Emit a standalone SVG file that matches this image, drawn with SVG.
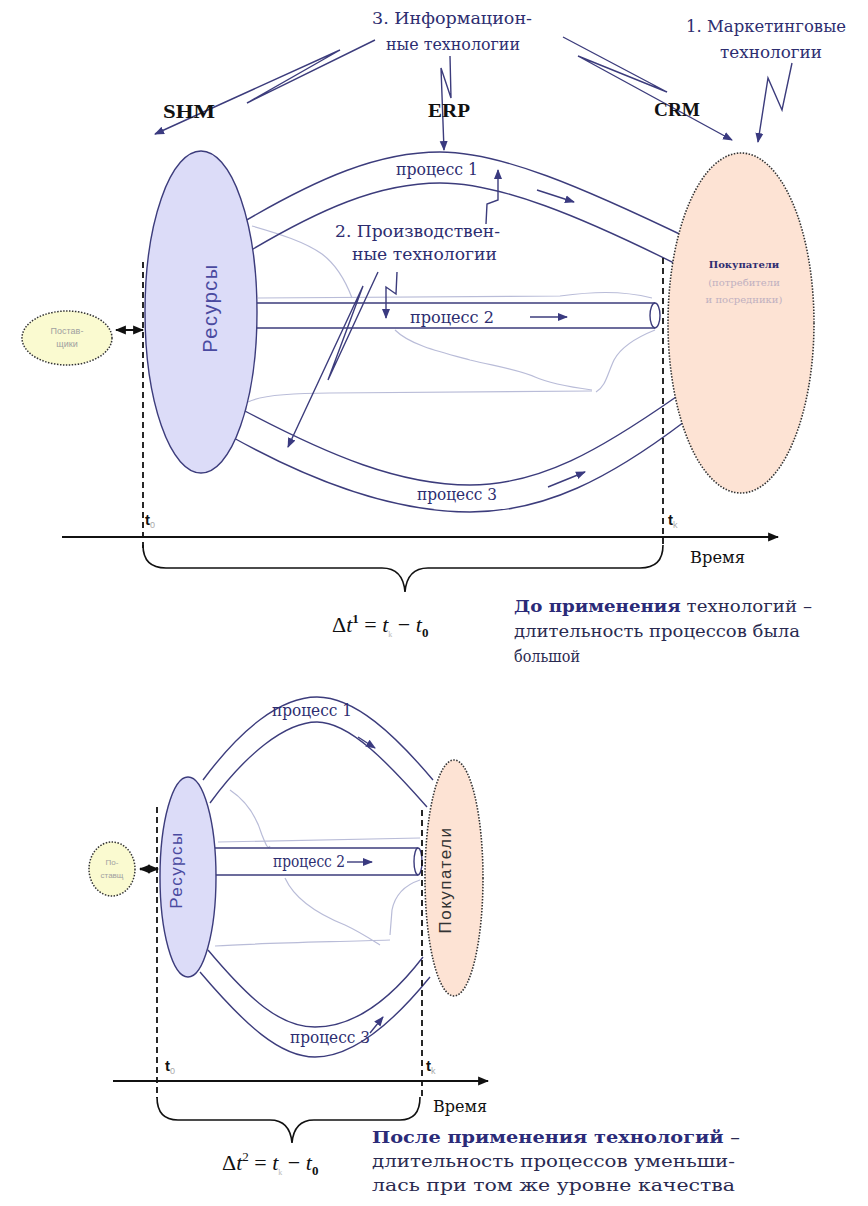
<svg xmlns="http://www.w3.org/2000/svg" width="868" height="1206" viewBox="0 0 868 1206">
<style>
.lbl{font-family:"DejaVu Serif","Liberation Serif",serif;font-size:17px;fill:#2d2d70}
.txt{font-family:"DejaVu Serif","Liberation Serif",serif;font-size:17px;fill:#2a2a50}
.blk{font-family:"Liberation Serif","DejaVu Serif",serif;font-weight:bold;font-size:18px;fill:#111}
.ln{fill:none;stroke:#3c3c7c;stroke-width:1.4}
.ar{fill:none;stroke:#3c3c7c;stroke-width:1.4;marker-end:url(#ah)}
.map{fill:none;stroke:#b9bcd8;stroke-width:1.2}
.dash{fill:none;stroke:#111;stroke-width:1.8;stroke-dasharray:6 4}
.res{fill:#dcdcf8;stroke:#3c3c7c;stroke-width:1.4}
.buy{fill:#fde3d4;stroke:#333;stroke-width:1.6;stroke-dasharray:1.5 1.5}
.sup{fill:#fafad0;stroke:#333;stroke-width:1.5;stroke-dasharray:1.5 1.5}
.rot{font-family:"Liberation Sans","DejaVu Sans",sans-serif;fill:#4a4aa0;letter-spacing:1.5px}
.t{font-family:"Liberation Sans",sans-serif;font-weight:bold;font-size:15px;fill:#111}
.sub{font-size:9px;fill:#aaa;font-weight:normal}
.f{font-family:"Liberation Serif","DejaVu Serif",serif;font-size:22px;fill:#111}
.small{font-family:"Liberation Sans","DejaVu Sans",sans-serif;fill:#a0a0a0;text-anchor:middle}
</style>
<defs>
<marker id="ah" viewBox="0 0 10 10" refX="9" refY="5" markerWidth="10" markerHeight="10" markerUnits="userSpaceOnUse" orient="auto"><path d="M0,1 L10,5 L0,9 z" fill="#3a3a80"/></marker>
<marker id="bk" viewBox="0 0 10 10" refX="9" refY="5" markerWidth="11" markerHeight="11" markerUnits="userSpaceOnUse" orient="auto-start-reverse"><path d="M0,1 L10,5 L0,9 z" fill="#111"/></marker>
</defs>
<rect width="868" height="1206" fill="#fff"/>

<!-- ===== Upper diagram ===== -->
<g id="map1">
<path class="map" d="M252,226 C280,234 305,242 322,254 C338,266 346,282 352,298"/>
<path class="map" d="M258,298 L560,296 C590,292 620,290 652,298"/>
<path class="map" d="M395,330 C410,345 440,352 470,360 C500,367 520,370 535,377 C548,383 570,387 592,390"/>
<path class="map" d="M655,330 C640,336 622,345 614,360 C607,375 606,386 596,392"/>
<path class="map" d="M248,402 C262,395 290,393 330,393 L592,391"/>
</g>

<g id="connectors-top">
<path class="ln" d="M233,228 C320,176 380,152 440,152 C500,152 580,186 692,240"/>
<path class="ln" d="M238,258 C320,208 380,183 440,183 C500,183 580,216 680,266"/>
<path class="ar" d="M537,190 L574,202"/>
<path class="ln" d="M257,303 L655,303 M257,328 L655,328"/>
<ellipse class="ln" cx="655" cy="315.5" rx="5" ry="12.5"/>
<path class="ar" d="M530,317 L567,317"/>
<path class="ln" d="M243,410 C330,456 400,485 470,485 C540,485 600,450 676,397"/>
<path class="ln" d="M232,437 C320,486 400,512 470,512 C545,512 610,478 684,422"/>
<path class="ar" d="M548,487 L585,472"/>
<path class="ar" d="M375,40 L247,103 L340,50 L155,134"/>
<path class="ar" d="M450,56 L451,98 L441,68 L444,150"/>
<path class="ar" d="M563,37 L667,92 L578,56 L732,140"/>
<path class="ar" d="M792,63 L782,110 L768,78 L758,142"/>
<path class="ar" d="M486,224 L487,204 L498,200 L498,170"/>
<path class="ar" d="M397,272 L396,294 L386,287 L386,318"/>
<path class="ar" d="M378,272 L328,380 L363,286 L288,447"/>
<path d="M116,330 L143,330" stroke="#111" stroke-width="2" marker-start="url(#bk)" marker-end="url(#bk)"/>
<path class="dash" d="M143,262 L143,548"/>
<path class="dash" d="M663,258 L663,548"/>
<path d="M62,537 L778,537" stroke="#111" stroke-width="2" marker-end="url(#bk)"/>
<path d="M143,545 Q143,568 166,568 L382,568 Q403,568 405,592 Q407,568 428,568 L640,568 Q663,568 663,545" fill="none" stroke="#111" stroke-width="1.6"/>
</g>

<g id="resources1">
<ellipse class="res" cx="201" cy="312" rx="56" ry="161"/>
<text class="rot" font-size="20" text-anchor="middle" transform="translate(217,308) rotate(-90)">Ресурсы</text>
</g>
<g id="buyers1">
<ellipse class="buy" cx="741" cy="323" rx="73" ry="170"/>
<text x="744" y="268" text-anchor="middle" font-family="DejaVu Serif,serif" font-weight="bold" font-size="10" fill="#2d2d70">Покупатели</text>
<text x="744" y="286" text-anchor="middle" font-family="DejaVu Serif,serif" font-size="10" fill="#c0b0c0">(потребители</text>
<text x="744" y="303" text-anchor="middle" font-family="DejaVu Serif,serif" font-size="10" fill="#c0b0c0">и посредники)</text>
</g>
<g id="supplier1">
<ellipse class="sup" cx="67" cy="338" rx="45" ry="27"/>
<text class="small" x="67" y="334" font-size="9">Постав-</text>
<text class="small" x="67" y="347" font-size="9">щики</text>
</g>

<g id="labels-top">
<text class="lbl" x="372" y="24" textLength="160" lengthAdjust="spacingAndGlyphs">3. Информацион-</text>
<text class="lbl" x="386" y="50" textLength="134" lengthAdjust="spacingAndGlyphs">ные технологии</text>
<text class="lbl" x="686" y="32" textLength="160" lengthAdjust="spacingAndGlyphs">1. Маркетинговые</text>
<text class="lbl" x="720" y="58" textLength="102" lengthAdjust="spacingAndGlyphs">технологии</text>
<text class="blk" x="163" y="118" textLength="52" lengthAdjust="spacingAndGlyphs">SHM</text>
<text class="blk" x="428" y="117" textLength="42" lengthAdjust="spacingAndGlyphs">ERP</text>
<text class="blk" x="654" y="116" textLength="46" lengthAdjust="spacingAndGlyphs">CRM</text>
<text class="lbl" x="396" y="175" textLength="82" lengthAdjust="spacingAndGlyphs">процесс 1</text>
<text class="lbl" x="335" y="237" textLength="165" lengthAdjust="spacingAndGlyphs">2. Производствен-</text>
<text class="lbl" x="352" y="260" textLength="145" lengthAdjust="spacingAndGlyphs">ные технологии</text>
<text class="lbl" x="410" y="323" textLength="84" lengthAdjust="spacingAndGlyphs">процесс 2</text>
<text class="lbl" x="417" y="500" textLength="80" lengthAdjust="spacingAndGlyphs">процесс 3</text>
<text class="t" x="145" y="525">t<tspan class="sub" dy="3">0</tspan></text>
<text class="t" x="668" y="525">t<tspan class="sub" dy="3">k</tspan></text>
<text class="txt" x="690" y="563" textLength="55" lengthAdjust="spacingAndGlyphs" style="fill:#111">Время</text>
<text class="f" x="332" y="632"><tspan>Δ</tspan><tspan font-style="italic">t</tspan><tspan font-size="13" font-weight="bold" dy="-9">1</tspan><tspan dy="9"> = </tspan><tspan font-style="italic">t</tspan><tspan font-size="8" fill="#bbb" dy="5">k</tspan><tspan dy="-5"> − </tspan><tspan font-style="italic">t</tspan><tspan font-size="13" font-weight="bold" dy="5">0</tspan></text>
<text class="txt" x="514" y="612" textLength="298" lengthAdjust="spacingAndGlyphs"><tspan font-weight="bold" fill="#2b2b78">До применения</tspan> технологий –</text>
<text class="txt" x="514" y="637" textLength="286" lengthAdjust="spacingAndGlyphs">длительность процессов была</text>
<text class="txt" x="514" y="662" textLength="66" lengthAdjust="spacingAndGlyphs">большой</text>
</g>

<!-- ===== Lower diagram ===== -->
<g id="map2">
<path class="map" d="M230,790 C245,800 256,815 262,835 C266,845 268,850 270,846"/>
<path class="map" d="M218,842 L420,838"/>
<path class="map" d="M285,878 C295,900 320,915 345,925 C360,932 372,940 380,945"/>
<path class="map" d="M420,880 C405,885 395,895 392,910 L390,935"/>
<path class="map" d="M215,946 C260,943 330,942 390,940"/>
</g>

<g id="connectors-bottom">
<path class="ln" d="M203,780 C240,730 280,697 317,697 C355,697 395,735 433,780"/>
<path class="ln" d="M210,803 C245,755 285,722 317,722 C350,722 390,765 427,807"/>
<path class="ar" d="M358,737 L375,748"/>
<path class="ln" d="M215,848 L418,848 M215,875 L418,875"/>
<ellipse class="ln" cx="418" cy="861.5" rx="4" ry="13.5"/>
<path class="ar" d="M347,862 L372,862"/>
<path class="ln" d="M208,950 C250,1000 280,1027 315,1027 C355,1027 390,1000 423,957"/>
<path class="ln" d="M200,972 C245,1025 280,1057 315,1057 C355,1057 395,1020 430,977"/>
<path class="ar" d="M370,1033 L383,1017"/>
<path d="M140,869 L158,869" stroke="#111" stroke-width="2.5" marker-start="url(#bk)" marker-end="url(#bk)"/>
<path class="dash" d="M157,807 L157,1098"/>
<path class="dash" d="M422,810 L422,1098"/>
<path d="M113,1081 L488,1081" stroke="#111" stroke-width="2" marker-end="url(#bk)"/>
<path d="M157,1097 Q157,1120 178,1120 L270,1120 Q290,1120 292,1143 Q294,1120 314,1120 L400,1120 Q420,1120 420,1097" fill="none" stroke="#111" stroke-width="1.6"/>
</g>

<g id="resources2">
<ellipse class="res" cx="188" cy="877" rx="28" ry="100"/>
<text class="rot" font-size="17" text-anchor="middle" transform="translate(182,870) rotate(-90)">Ресурсы</text>
</g>
<g id="buyers2">
<ellipse class="buy" cx="454" cy="878" rx="29" ry="118"/>
<text class="rot" font-size="17" text-anchor="middle" style="fill:#333" transform="translate(451,880) rotate(-90)">Покупатели</text>
</g>
<g id="supplier2">
<ellipse class="sup" cx="112" cy="869" rx="23" ry="27"/>
<text class="small" x="112" y="865" font-size="8">По-</text>
<text class="small" x="112" y="878" font-size="8">ставщ</text>
</g>

<g id="labels-bottom">
<text class="lbl" x="272" y="716" textLength="80" lengthAdjust="spacingAndGlyphs">процесс 1</text>
<text class="lbl" x="273" y="867" textLength="72" lengthAdjust="spacingAndGlyphs">процесс 2</text>
<text class="lbl" x="290" y="1043" textLength="80" lengthAdjust="spacingAndGlyphs">процесс 3</text>
<text class="t" x="165" y="1071">t<tspan class="sub" dy="3">0</tspan></text>
<text class="t" x="426" y="1071">t<tspan class="sub" dy="3">k</tspan></text>
<text class="txt" x="433" y="1112" textLength="54" lengthAdjust="spacingAndGlyphs" style="fill:#111">Время</text>
<text class="f" x="222" y="1170"><tspan>Δ</tspan><tspan font-style="italic">t</tspan><tspan font-size="13" dy="-9">2</tspan><tspan dy="9"> = </tspan><tspan font-style="italic">t</tspan><tspan font-size="8" fill="#bbb" dy="5">k</tspan><tspan dy="-5"> − </tspan><tspan font-style="italic">t</tspan><tspan font-size="13" font-weight="bold" dy="5">0</tspan></text>
<text class="txt" x="372" y="1143" textLength="368" lengthAdjust="spacingAndGlyphs" font-weight="bold" style="fill:#2b2b78">После применения технологий <tspan font-weight="normal" fill="#2a2a50">–</tspan></text>
<text class="txt" x="372" y="1167" textLength="363" lengthAdjust="spacingAndGlyphs">длительность процессов уменьши-</text>
<text class="txt" x="372" y="1191" textLength="363" lengthAdjust="spacingAndGlyphs">лась при том же уровне качества</text>
</g>
</svg>
